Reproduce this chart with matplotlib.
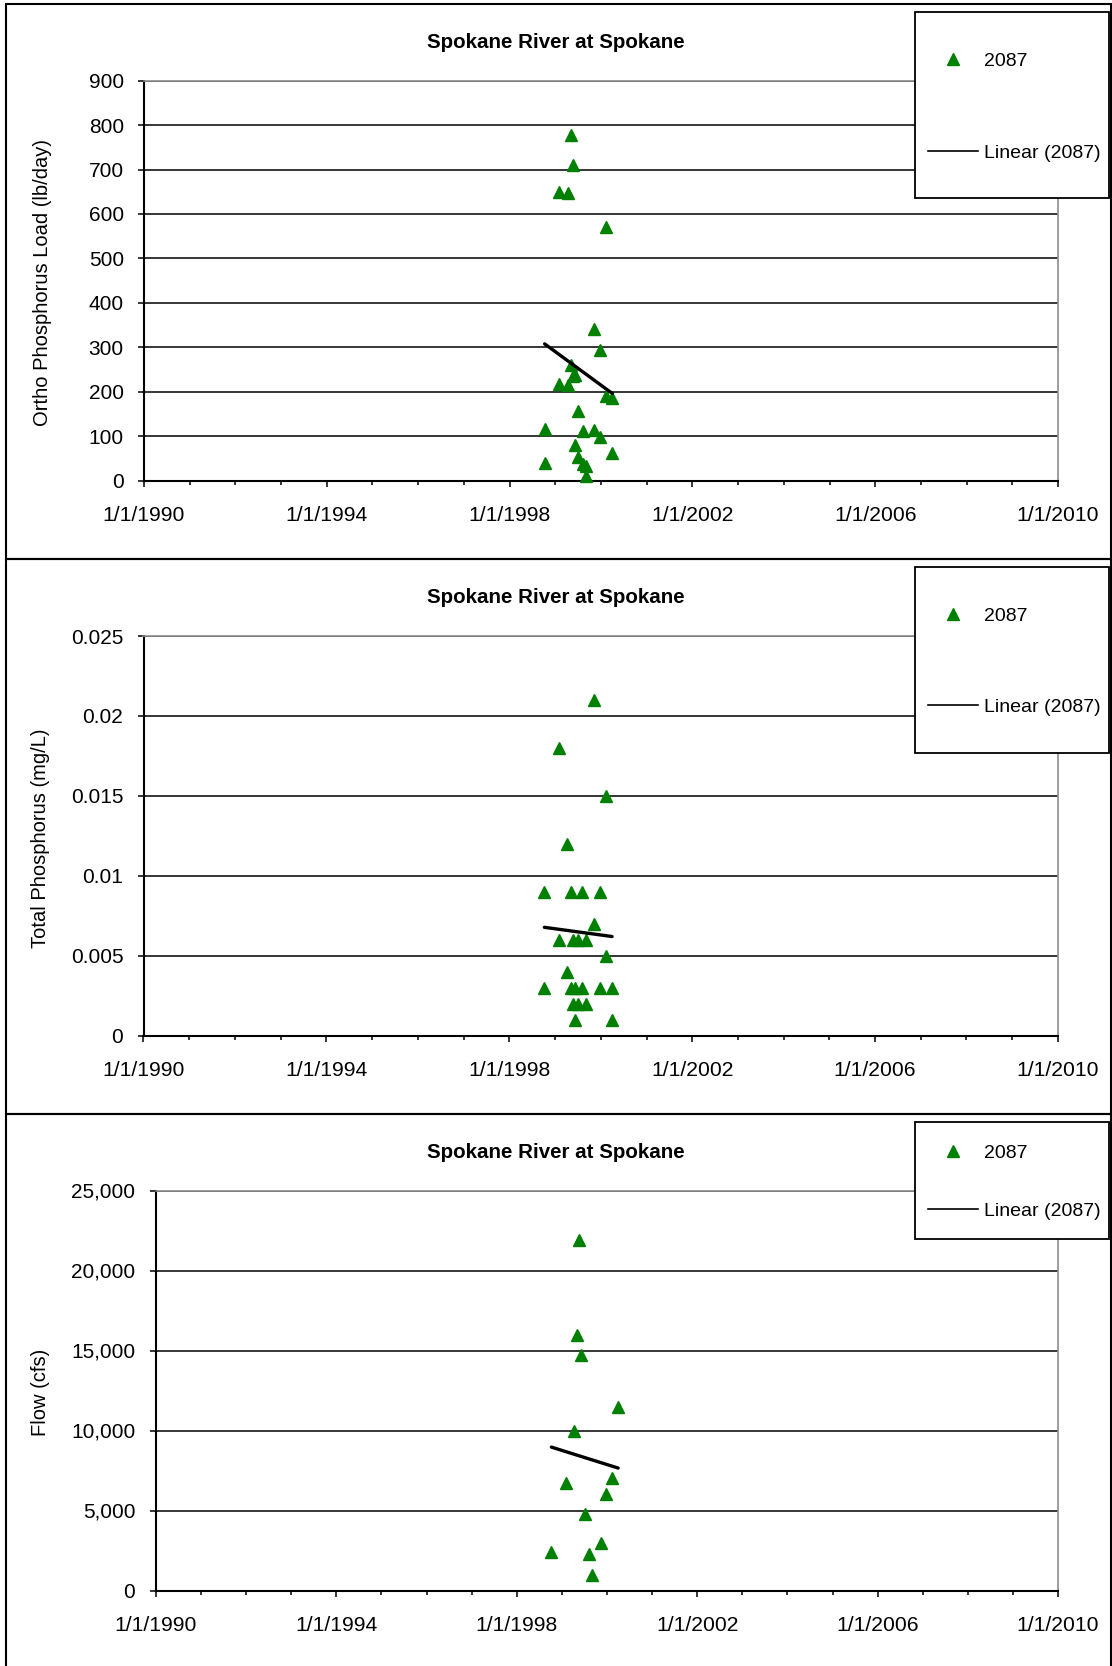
import matplotlib
matplotlib.use("Agg")
import matplotlib.pyplot as plt
import matplotlib.dates as mdates
from matplotlib.lines import Line2D
from matplotlib.patches import Rectangle
from matplotlib.ticker import FuncFormatter, MultipleLocator, FixedLocator
import numpy as np
from datetime import datetime

plt.rcParams['font.family'] = ['Liberation Sans', 'DejaVu Sans']

W, H = 1112, 1666

# ---- data -------------------------------------------------------------
station = "2087"
chart_title = "Spokane River at Spokane"

visit_dates = ["1998-10-08", "1999-02-03", "1999-04-09", "1999-05-05", "1999-05-23",
               "1999-06-07", "1999-07-05", "1999-08-07", "1999-09-06", "1999-11-10",
               "1999-12-28", "2000-02-13", "2000-04-01"]

# two phosphorus results per visit
ortho_load_a = [117, 650, 648, 778, 710, 238, 156, 112, 33, 340, 294, 571, 186]
ortho_load_b = [39, 218, 216, 259, 236, 79, 52, 37, 11, 113, 98, 190, 62]

total_p_a = [0.009, 0.018, 0.012, 0.009, 0.006, 0.003, 0.006, 0.009, 0.006,
             0.021, 0.009, 0.015, 0.003]
total_p_b = [0.003, 0.006, 0.004, 0.003, 0.002, 0.001, 0.002, 0.003, 0.002,
             0.007, 0.003, 0.005, 0.001]

flow_cfs = [2400, 6700, 10000, 16000, 21900, 14700, 4800, 2300, 1000,
            3000, 6050, 7050, 11500]

x_tick_years = [1990, 1994, 1998, 2002, 2006, 2010]

GREEN = "#008000"
FS = 14

fig = plt.figure(figsize=(W / 100, H / 100), dpi=100)


def fy(y):
    return 1 - y / H


def date_fmt(x, pos=None):
    d = mdates.num2date(x)
    return f"{d.month}/{d.day}/{d.year}"


dates = [datetime.strptime(s, "%Y-%m-%d") for s in visit_dates]
dnum = mdates.date2num(dates)

panels = [
    dict(box=(4, 559), ax=(144, 80.7, 1058, 480.5), x=np.concatenate([dnum, dnum]),
         y=np.array(ortho_load_a + ortho_load_b, dtype=float), ylim=(0, 900), step=100,
         fmt=lambda v, p: f"{v:g}", ylabel="Ortho Phosphorus Load (lb/day)", ylab_x=42.5,
         ypad=10.5, leg=(11.5, 198, 58.7, 151.7)),
    dict(box=(559, 1114), ax=(143.5, 636, 1058, 1035.5), x=np.concatenate([dnum, dnum]),
         y=np.array(total_p_a + total_p_b, dtype=float), ylim=(0, 0.025), step=0.005,
         fmt=lambda v, p: f"{v:g}", ylabel="Total Phosphorus (mg/L)", ylab_x=40.5,
         ypad=10.5, leg=(567, 753, 614, 706)),
    dict(box=(1114, 1680), ax=(156, 1190.5, 1058, 1590.5), x=dnum,
         y=np.array(flow_cfs, dtype=float), ylim=(0, 25000), step=5000,
         fmt=lambda v, p: f"{int(round(v)):,}", ylabel="Flow (cfs)", ylab_x=41,
         ypad=11, leg=(1122.3, 1239.3, 1151, 1210)),
]

for p in panels:
    # chart-area border
    top, bot = p["box"]
    fig.add_artist(Rectangle((5.5 / W, fy(bot)), (1110.5 - 5.5) / W, (bot - top) / H,
                             transform=fig.transFigure, fill=False, edgecolor="black",
                             lw=1.5, zorder=0))
    l, t, r, b = p["ax"]
    ax = fig.add_axes([l / W, fy(b), (r - l) / W, (b - t) / H])

    pts, = ax.plot(p["x"], p["y"], linestyle="none", marker="^", ms=8.6,
                   color=GREEN, mec=GREEN, zorder=3, clip_on=False)

    # least-squares trend line across the sampled period
    coef = np.polyfit(p["x"], p["y"], 1)
    xx = np.array([p["x"].min(), p["x"].max()])
    ax.plot(xx, np.polyval(coef, xx), color="black", lw=2.4,
            solid_capstyle="round", zorder=4)

    ax.set_xlim(mdates.date2num(datetime(1990, 1, 1)), mdates.date2num(datetime(2010, 1, 1)))
    ax.xaxis.set_major_locator(FixedLocator(
        [mdates.date2num(datetime(yr, 1, 1)) for yr in x_tick_years]))
    ax.xaxis.set_minor_locator(FixedLocator(
        [mdates.date2num(datetime(yr, 1, 1)) for yr in range(1990, 2011)]))
    ax.xaxis.set_major_formatter(FuncFormatter(date_fmt))

    ax.set_ylim(*p["ylim"])
    ax.yaxis.set_major_locator(MultipleLocator(p["step"]))
    ax.yaxis.set_major_formatter(FuncFormatter(p["fmt"]))

    ax.set_axisbelow(True)
    ax.yaxis.grid(True, color="black", lw=1.1)
    for side in ("left", "bottom"):
        ax.spines[side].set_color("black")
        ax.spines[side].set_linewidth(1.5)
    for side in ("top", "right"):
        ax.spines[side].set_color("#8c8c8c")
        ax.spines[side].set_linewidth(1.2)

    ax.tick_params(axis="y", direction="out", length=4, width=1.1, pad=p["ypad"],
                   labelsize=15, colors="black")
    ax.tick_params(axis="x", which="major", direction="out", length=4, width=1.1,
                   pad=14.5, labelsize=15.2)
    ax.tick_params(axis="x", which="minor", direction="out", length=3, width=1.1)

    # title and axis label
    fig.text(556 / W, fy(top + 44.3), chart_title, ha="center", va="baseline",
             fontsize=14.8, fontweight="bold")
    fig.text(p["ylab_x"] / W, fy((t + b) / 2 + 2), p["ylabel"], rotation=90,
             ha="center", va="center", fontsize=14.5)

    # legend: white framed box with the entries on top of it
    lt, lb, ly1, ly2 = p["leg"]
    fig.add_artist(Rectangle((915 / W, fy(lb)), (1108.5 - 915) / W, (lb - lt) / H,
                             transform=fig.transFigure, facecolor="white",
                             edgecolor="black", lw=1.3, zorder=5))
    row_h = 18.8
    spacing = (ly2 - ly1 - row_h) / (FS * 100 / 72)
    trend_handle = Line2D([], [], color="black", lw=1.2)
    leg = fig.legend([pts, trend_handle], [station, f"Linear ({station})"],
                     loc="center left",
                     bbox_to_anchor=(928.3 / W, fy((ly1 + ly2) / 2 + 1.6)),
                     bbox_transform=fig.transFigure, frameon=False, borderpad=0,
                     borderaxespad=0, handlelength=2.55, handletextpad=0.29,
                     labelspacing=spacing, fontsize=FS, numpoints=1)
    leg.set_zorder(6)

fig.savefig("out.png", dpi=100, facecolor="white")
